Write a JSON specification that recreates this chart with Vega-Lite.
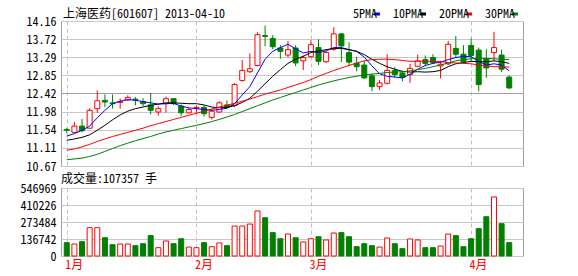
{
  "$schema": "https://vega.github.io/schema/vega-lite/v6.json",
  "padding": {"left": 19, "top": 7, "right": 0, "bottom": 0},
  "spacing": -1,
  "background": "white",
  "datasets": {
    "k": [
      {"d":"2013-01-09","i":0,"open":11.55,"high":11.59,"low":11.46,"close":11.53,"vol":107000,"5PMA":11.39,"10PMA":11.29,"20PMA":11.05,"30PMA":10.82},
      {"d":"2013-01-10","i":1,"open":11.48,"high":11.73,"low":11.46,"close":11.63,"vol":96500,"5PMA":11.45,"10PMA":11.32,"20PMA":11.08,"30PMA":10.84},
      {"d":"2013-01-11","i":2,"open":11.63,"high":11.80,"low":11.48,"close":11.52,"vol":115000,"5PMA":11.53,"10PMA":11.36,"20PMA":11.13,"30PMA":10.86},
      {"d":"2013-01-14","i":3,"open":11.58,"high":12.06,"low":11.58,"close":12.01,"vol":228000,"5PMA":11.63,"10PMA":11.42,"20PMA":11.19,"30PMA":10.90},
      {"d":"2013-01-15","i":4,"open":12.05,"high":12.49,"low":11.95,"close":12.24,"vol":228000,"5PMA":11.83,"10PMA":11.53,"20PMA":11.26,"30PMA":10.95},
      {"d":"2013-01-16","i":5,"open":12.25,"high":12.39,"low":12.09,"close":12.21,"vol":147000,"5PMA":12.01,"10PMA":11.65,"20PMA":11.32,"30PMA":11.02},
      {"d":"2013-01-17","i":6,"open":12.19,"high":12.39,"low":12.05,"close":12.17,"vol":91000,"5PMA":12.17,"10PMA":11.78,"20PMA":11.38,"30PMA":11.09},
      {"d":"2013-01-18","i":7,"open":12.20,"high":12.30,"low":12.05,"close":12.22,"vol":96500,"5PMA":12.23,"10PMA":11.90,"20PMA":11.43,"30PMA":11.16},
      {"d":"2013-01-21","i":8,"open":12.26,"high":12.37,"low":12.24,"close":12.32,"vol":96500,"5PMA":12.27,"10PMA":11.99,"20PMA":11.48,"30PMA":11.22},
      {"d":"2013-01-22","i":9,"open":12.28,"high":12.33,"low":12.13,"close":12.26,"vol":83000,"5PMA":12.25,"10PMA":12.05,"20PMA":11.53,"30PMA":11.28},
      {"d":"2013-01-23","i":10,"open":12.22,"high":12.30,"low":12.11,"close":12.17,"vol":99000,"5PMA":12.22,"10PMA":12.09,"20PMA":11.58,"30PMA":11.33},
      {"d":"2013-01-24","i":11,"open":12.14,"high":12.43,"low":11.91,"close":12.01,"vol":164000,"5PMA":12.19,"10PMA":12.13,"20PMA":11.64,"30PMA":11.38},
      {"d":"2013-01-25","i":12,"open":11.97,"high":12.11,"low":11.88,"close":12.05,"vol":67000,"5PMA":12.16,"10PMA":12.16,"20PMA":11.69,"30PMA":11.44},
      {"d":"2013-01-28","i":13,"open":12.17,"high":12.34,"low":11.95,"close":12.29,"vol":121000,"5PMA":12.17,"10PMA":12.19,"20PMA":11.74,"30PMA":11.49},
      {"d":"2013-01-29","i":14,"open":12.29,"high":12.30,"low":12.14,"close":12.17,"vol":99000,"5PMA":12.18,"10PMA":12.19,"20PMA":11.79,"30PMA":11.53},
      {"d":"2013-01-30","i":15,"open":12.11,"high":12.15,"low":11.87,"close":11.95,"vol":139000,"5PMA":12.11,"10PMA":12.18,"20PMA":11.84,"30PMA":11.57},
      {"d":"2013-01-31","i":16,"open":11.95,"high":12.07,"low":11.93,"close":12.03,"vol":72000,"5PMA":12.07,"10PMA":12.17,"20PMA":11.89,"30PMA":11.61},
      {"d":"2013-02-01","i":17,"open":12.06,"high":12.13,"low":11.95,"close":12.08,"vol":67000,"5PMA":12.05,"10PMA":12.17,"20PMA":11.94,"30PMA":11.65},
      {"d":"2013-02-04","i":18,"open":12.08,"high":12.13,"low":11.86,"close":11.93,"vol":107000,"5PMA":12.03,"10PMA":12.14,"20PMA":11.99,"30PMA":11.69},
      {"d":"2013-02-05","i":19,"open":11.84,"high":12.05,"low":11.79,"close":11.99,"vol":75000,"5PMA":12.01,"10PMA":12.09,"20PMA":12.04,"30PMA":11.74},
      {"d":"2013-02-06","i":20,"open":11.97,"high":12.23,"low":11.95,"close":12.19,"vol":105000,"5PMA":12.03,"10PMA":12.07,"20PMA":12.09,"30PMA":11.79},
      {"d":"2013-02-07","i":21,"open":12.14,"high":12.25,"low":12.05,"close":12.09,"vol":83000,"5PMA":12.06,"10PMA":12.08,"20PMA":12.13,"30PMA":11.85},
      {"d":"2013-02-08","i":22,"open":12.13,"high":12.67,"low":12.09,"close":12.63,"vol":241000,"5PMA":12.17,"10PMA":12.12,"20PMA":12.18,"30PMA":11.91},
      {"d":"2013-02-18","i":23,"open":12.73,"high":13.22,"low":12.70,"close":12.97,"vol":241000,"5PMA":12.38,"10PMA":12.20,"20PMA":12.23,"30PMA":11.98},
      {"d":"2013-02-19","i":24,"open":12.94,"high":13.38,"low":12.91,"close":13.01,"vol":257000,"5PMA":12.58,"10PMA":12.30,"20PMA":12.28,"30PMA":12.05},
      {"d":"2013-02-20","i":25,"open":13.09,"high":13.89,"low":13.07,"close":13.83,"vol":362000,"5PMA":12.91,"10PMA":12.47,"20PMA":12.34,"30PMA":12.12},
      {"d":"2013-02-21","i":26,"open":13.81,"high":14.05,"low":13.55,"close":13.79,"vol":308000,"5PMA":13.24,"10PMA":12.65,"20PMA":12.40,"30PMA":12.19},
      {"d":"2013-02-22","i":27,"open":13.74,"high":13.82,"low":13.48,"close":13.54,"vol":188000,"5PMA":13.43,"10PMA":12.83,"20PMA":12.45,"30PMA":12.26},
      {"d":"2013-02-25","i":28,"open":13.51,"high":13.58,"low":13.25,"close":13.43,"vol":139000,"5PMA":13.52,"10PMA":12.99,"20PMA":12.50,"30PMA":12.32},
      {"d":"2013-02-26","i":29,"open":13.34,"high":13.68,"low":13.28,"close":13.47,"vol":177000,"5PMA":13.60,"10PMA":13.14,"20PMA":12.56,"30PMA":12.38},
      {"d":"2013-02-27","i":30,"open":13.51,"high":13.58,"low":13.07,"close":13.15,"vol":147000,"5PMA":13.49,"10PMA":13.24,"20PMA":12.62,"30PMA":12.44},
      {"d":"2013-02-28","i":31,"open":13.20,"high":13.33,"low":12.98,"close":13.28,"vol":113000,"5PMA":13.39,"10PMA":13.31,"20PMA":12.68,"30PMA":12.50},
      {"d":"2013-03-01","i":32,"open":13.30,"high":13.70,"low":13.27,"close":13.59,"vol":139000,"5PMA":13.43,"10PMA":13.40,"20PMA":12.75,"30PMA":12.56},
      {"d":"2013-03-04","i":33,"open":13.52,"high":13.72,"low":13.10,"close":13.19,"vol":155000,"5PMA":13.40,"10PMA":13.44,"20PMA":12.83,"30PMA":12.62},
      {"d":"2013-03-05","i":34,"open":13.18,"high":13.44,"low":13.15,"close":13.40,"vol":129000,"5PMA":13.44,"10PMA":13.47,"20PMA":12.90,"30PMA":12.67},
      {"d":"2013-03-06","i":35,"open":13.48,"high":14.01,"low":13.44,"close":13.85,"vol":185000,"5PMA":13.52,"10PMA":13.50,"20PMA":12.97,"30PMA":12.72},
      {"d":"2013-03-07","i":36,"open":13.85,"high":13.87,"low":13.17,"close":13.56,"vol":188000,"5PMA":13.52,"10PMA":13.50,"20PMA":13.03,"30PMA":12.76},
      {"d":"2013-03-08","i":37,"open":13.40,"high":13.65,"low":13.07,"close":13.17,"vol":155000,"5PMA":13.47,"10PMA":13.47,"20PMA":13.09,"30PMA":12.80},
      {"d":"2013-03-11","i":38,"open":13.14,"high":13.30,"low":12.95,"close":13.06,"vol":75000,"5PMA":13.43,"10PMA":13.43,"20PMA":13.15,"30PMA":12.83},
      {"d":"2013-03-12","i":39,"open":13.10,"high":13.20,"low":12.77,"close":12.79,"vol":99000,"5PMA":13.29,"10PMA":13.35,"20PMA":13.20,"30PMA":12.86},
      {"d":"2013-03-13","i":40,"open":12.84,"high":12.90,"low":12.47,"close":12.58,"vol":83000,"5PMA":13.08,"10PMA":13.24,"20PMA":13.23,"30PMA":12.88},
      {"d":"2013-03-14","i":41,"open":12.58,"high":12.74,"low":12.50,"close":12.67,"vol":72000,"5PMA":12.89,"10PMA":13.14,"20PMA":13.24,"30PMA":12.90},
      {"d":"2013-03-15","i":42,"open":12.66,"high":13.36,"low":12.63,"close":12.97,"vol":145000,"5PMA":12.83,"10PMA":13.06,"20PMA":13.24,"30PMA":12.92},
      {"d":"2013-03-18","i":43,"open":12.97,"high":13.05,"low":12.80,"close":12.87,"vol":99000,"5PMA":12.81,"10PMA":13.00,"20PMA":13.23,"30PMA":12.93},
      {"d":"2013-03-19","i":44,"open":12.91,"high":12.95,"low":12.71,"close":12.80,"vol":59000,"5PMA":12.79,"10PMA":12.95,"20PMA":13.21,"30PMA":12.94},
      {"d":"2013-03-20","i":45,"open":12.87,"high":13.13,"low":12.67,"close":13.02,"vol":137000,"5PMA":12.88,"10PMA":12.93,"20PMA":13.19,"30PMA":12.96},
      {"d":"2013-03-21","i":46,"open":13.07,"high":13.35,"low":13.05,"close":13.20,"vol":129000,"5PMA":13.00,"10PMA":12.94,"20PMA":13.19,"30PMA":12.99},
      {"d":"2013-03-22","i":47,"open":13.23,"high":13.33,"low":13.07,"close":13.14,"vol":67000,"5PMA":13.09,"10PMA":12.93,"20PMA":13.19,"30PMA":13.02},
      {"d":"2013-03-25","i":48,"open":13.28,"high":13.36,"low":13.12,"close":13.16,"vol":67000,"5PMA":13.14,"10PMA":12.94,"20PMA":13.19,"30PMA":13.06},
      {"d":"2013-03-26","i":49,"open":13.08,"high":13.20,"low":12.78,"close":13.12,"vol":80000,"5PMA":13.17,"10PMA":12.97,"20PMA":13.18,"30PMA":13.10},
      {"d":"2013-03-27","i":50,"open":13.13,"high":13.68,"low":13.10,"close":13.60,"vol":177000,"5PMA":13.23,"10PMA":13.06,"20PMA":13.16,"30PMA":13.15},
      {"d":"2013-03-28","i":51,"open":13.50,"high":13.80,"low":13.28,"close":13.36,"vol":164000,"5PMA":13.28,"10PMA":13.13,"20PMA":13.15,"30PMA":13.20},
      {"d":"2013-03-29","i":52,"open":13.36,"high":13.58,"low":13.14,"close":13.18,"vol":75000,"5PMA":13.31,"10PMA":13.16,"20PMA":13.14,"30PMA":13.23},
      {"d":"2013-04-01","i":53,"open":13.57,"high":13.74,"low":13.18,"close":13.33,"vol":139000,"5PMA":13.30,"10PMA":13.19,"20PMA":13.13,"30PMA":13.25},
      {"d":"2013-04-02","i":54,"open":13.46,"high":13.52,"low":12.47,"close":12.63,"vol":220000,"5PMA":13.19,"10PMA":13.18,"20PMA":13.10,"30PMA":13.26},
      {"d":"2013-04-03","i":55,"open":13.25,"high":13.48,"low":12.79,"close":13.03,"vol":316000,"5PMA":13.10,"10PMA":13.18,"20PMA":13.08,"30PMA":13.26},
      {"d":"2013-04-08","i":56,"open":13.40,"high":13.90,"low":13.19,"close":13.52,"vol":475000,"5PMA":13.13,"10PMA":13.20,"20PMA":13.06,"30PMA":13.25},
      {"d":"2013-04-09","i":57,"open":13.34,"high":13.47,"low":12.93,"close":13.00,"vol":260000,"5PMA":13.10,"10PMA":13.18,"20PMA":13.06,"30PMA":13.24},
      {"d":"2013-04-10","i":58,"open":12.81,"high":12.85,"low":12.52,"close":12.55,"vol":107357,"5PMA":12.96,"10PMA":13.14,"20PMA":13.05,"30PMA":13.23}
    ]
  },
  "vconcat": [
    {
      "width": 462,
      "height": 145,
      "title": {"text": "上海医药[601607] 2013-04-10", "dx": 2, "dy": 6, "offset": 0},
      "data": {"name": "k"},
      "encoding": {
        "x": {
          "field": "i", "type": "quantitative",
          "scale": {"domain": [-0.1, 59.15], "nice": false, "zero": false},
          "axis": {"values": [0, 17, 32, 53], "tickCount": 4, "labels": false, "ticks": false, "domain": false, "title": null, "grid": true, "gridDash": [4, 3], "gridColor": "#c0c0c0"}
        },
        "y": {
          "type": "quantitative",
          "scale": {"domain": [10.67, 14.16], "nice": false, "zero": false},
          "axis": {"values": [10.67, 11.11, 11.54, 11.98, 12.42, 12.85, 13.29, 13.72, 14.16], "tickCount": 9, "format": ".2f", "title": null, "ticks": false, "tickSize": 0, "domain": false, "labelPadding": 5, "grid": true, "gridColor": "#c8c8c8", "labelOverlap": false, "labelBound": false, "labelFlush": false}
        }
      },
      "layer": [
        {
          "mark": {"type": "rule", "color": "#a0a0a0", "strokeWidth": 1},
          "encoding": {
            "x": null,
            "y": {"datum": 12.415, "type": "quantitative"}
          }
        },
        {
          "mark": {"type": "rule", "strokeWidth": 1},
          "encoding": {
            "y": {"field": "low"},
            "y2": {"field": "high"},
            "color": {"condition": {"test": "datum.close >= datum.open", "value": "#ff0000"}, "value": "#008000"}
          }
        },
        {
          "mark": {"type": "bar", "width": 5, "strokeWidth": 1},
          "encoding": {
            "y": {"field": "open"},
            "y2": {"field": "close"},
            "fill": {"condition": {"test": "datum.close >= datum.open", "value": "#ffffff"}, "value": "#008000"},
            "stroke": {"condition": {"test": "datum.close >= datum.open", "value": "#ff0000"}, "value": "#008000"}
          }
        },
        {
          "transform": [{"fold": ["5PMA", "10PMA", "20PMA", "30PMA"], "as": ["ma", "v"]}],
          "mark": {"type": "line", "strokeWidth": 1, "interpolate": "linear"},
          "encoding": {
            "y": {"field": "v"},
            "color": {
              "field": "ma", "type": "nominal",
              "scale": {"domain": ["5PMA", "10PMA", "20PMA", "30PMA"], "range": ["#0000ff", "#000000", "#ff0000", "#008000"]},
              "legend": {
                "title": null, "orient": "none", "direction": "horizontal",
                "legendX": 309, "legendY": -13,
                "symbolType": "stroke", "symbolStrokeWidth": 3, "symbolSize": 36,
                "labelAlign": "right", "labelOffset": -6, "symbolOffset": 1,
                "columnPadding": 6, "padding": 0
              }
            }
          }
        }
      ]
    },
    {
      "width": 462,
      "height": 68,
      "title": {"text": "成交量:107357 手", "offset": -4},
      "data": {"name": "k"},
      "mark": {"type": "bar", "width": 5, "strokeWidth": 1},
      "encoding": {
        "x": {
          "field": "i", "type": "quantitative",
          "scale": {"domain": [-0.1, 59.15], "nice": false, "zero": false},
          "axis": {"values": [0, 17, 32, 53], "tickCount": 4, "labelExpr": "datum.value == 0 ? '1月' : datum.value == 17 ? '2月' : datum.value == 32 ? '3月' : '4月'", "labelColor": "#ff0000", "labelAlign": "left", "labelOffset": -2, "labelFlush": false, "labelBound": false, "labelOverlap": false, "labelPadding": 3, "ticks": false, "tickSize": 0, "domain": false, "title": null, "grid": true, "gridDash": [4, 3], "gridColor": "#c0c0c0"}
        },
        "y": {
          "field": "vol", "type": "quantitative",
          "scale": {"domain": [0, 546969], "nice": false, "zero": true},
          "axis": {"values": [0, 136742, 273484, 410226, 546969], "tickCount": 5, "format": "d", "title": null, "ticks": false, "tickSize": 0, "domain": false, "labelPadding": 5, "grid": true, "gridColor": "#c8c8c8", "labelOverlap": false, "labelFlush": false}
        },
        "fill": {"condition": {"test": "datum.close >= datum.open", "value": "#ffffff"}, "value": "#008000"},
        "stroke": {"condition": {"test": "datum.close >= datum.open", "value": "#ff0000"}, "value": "#008000"}
      }
    }
  ],
  "config": {
    "font": "Noto Sans Mono CJK SC, DejaVu Sans Mono, monospace",
    "view": {"stroke": "#a0a0a0", "strokeWidth": 1},
    "axis": {"labelFont": "Noto Sans Mono CJK SC, DejaVu Sans Mono, monospace", "labelFontSize": 12, "labelColor": "#000000", "gridWidth": 1, "labelOverlap": false},
    "legend": {"labelFont": "Noto Sans Mono CJK SC, DejaVu Sans Mono, monospace", "labelFontSize": 12, "labelColor": "#000000"},
    "title": {"anchor": "start", "frame": "group", "font": "Noto Sans Mono CJK SC, DejaVu Sans Mono, monospace", "fontSize": 12, "fontWeight": "normal", "color": "#000000", "offset": 4}
  }
}
